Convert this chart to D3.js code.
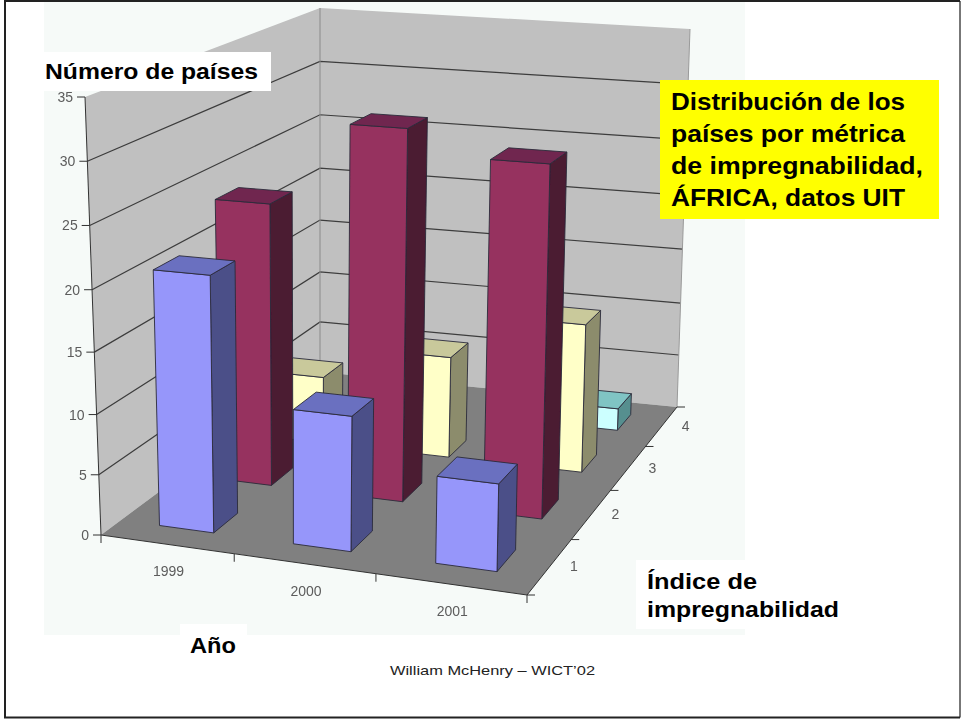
<!DOCTYPE html>
<html>
<head>
<meta charset="utf-8">
<script src="https://cdn.jsdelivr.net/npm/d3@7"></script>
<style>
  html, body { margin: 0; padding: 0; background: #fff; }
  text { font-family: "Liberation Sans", Arial, sans-serif; }
</style>
</head>
<body>
<div id="chart"></div>
<script>
const years = ['1999', '2000', '2001'];
const indices = ['1', '2', '3', '4'];
const valueTicks = [0, 5, 10, 15, 20, 25, 30, 35];

// one list per index of impregnability, one value per year
const index1Values = [21, 11, 7];
const index2Values = [24, 31, 29];
const index3Values = [6, 9, 13];
const index4Values = [0, 0, 2];

const titleLines = ['Distribución de los', 'países por métrica', 'de impregnabilidad,', 'ÁFRICA, datos UIT'];
const titleLengths = [234, 234, 252, 234];
const indexTitleLines = ['Índice de', 'impregnabilidad'];
const indexTitleLengths = [110, 192];

const series = [
  { index: indices[0], values: index1Values, front: '#9696fa', top: '#6a6fc0', side: '#4c5088' },
  { index: indices[1], values: index2Values, front: '#96325f', top: '#70284f', side: '#4b1a32' },
  { index: indices[2], values: index3Values, front: '#ffffc8', top: '#c9c99b', side: '#8c8c6c' },
  { index: indices[3], values: index4Values, front: '#ccffff', top: '#80c4c4', side: '#578f8f' },
]

const width = 962, height = 720;

// corners of the chart box as they land on the screen: front left, front right, back right, back left
const floorQuad = [[101, 535], [527, 595], [677, 407], [320, 372]];
const ceilQuad = [[85, 97], [536, 128], [690, 29], [320, 8]];

// square to quad mapping (Heckbert)
function quadMap(q) {
  const [[x0, y0], [x1, y1], [x2, y2], [x3, y3]] = q;
  const dx1 = x1 - x2, dx2 = x3 - x2, sx = x0 - x1 + x2 - x3;
  const dy1 = y1 - y2, dy2 = y3 - y2, sy = y0 - y1 + y2 - y3;
  const den = dx1 * dy2 - dx2 * dy1;
  const g = (sx * dy2 - dx2 * sy) / den;
  const h = (dx1 * sy - sx * dy1) / den;
  const a = x1 - x0 + g * x1, b = x3 - x0 + h * x3;
  const d = y1 - y0 + g * y1, e = y3 - y0 + h * y3;
  return (u, v) => {
    const w = g * u + h * v + 1;
    return [(a * u + b * v + x0) / w, (d * u + e * v + y0) / w];
  }
}
const floorAt = quadMap(floorQuad);
const ceilAt = quadMap(ceilQuad);

const xScale = d3.scaleBand().domain(years).range([0, 1]);
const zScale = d3.scaleBand().domain(indices).range([0, 1]);
// the spacing of the ticks shrinks a little towards the floor
const yScale = d3.scaleLinear().domain([0, 10, 20, 35]).range([0, 0.275, 0.56, 1]);

function project(u, v, value) {
  const a = floorAt(u, v), b = ceilAt(u, v), t = yScale(value);
  return [a[0] + (b[0] - a[0]) * t, a[1] + (b[1] - a[1]) * t];
}

const line = d3.line();
const closed = pts => line(pts) + 'Z';

const svg = d3.select('#chart').append('svg')
  .attr('width', width)
  .attr('height', height)
  .style('display', 'block');

const defs = svg.append('defs');
defs.append('filter').attr('id', 'soft')
  .append('feGaussianBlur').attr('stdDeviation', 0.6);
defs.append('filter').attr('id', 'softer')
  .append('feGaussianBlur').attr('stdDeviation', 0.7);

svg.append('rect').attr('width', width).attr('height', height).attr('fill', '#fff');

// pasted picture background
svg.append('rect')
  .attr('x', 44).attr('y', 2).attr('width', 701).attr('height', 633)
  .attr('fill', '#f6faf8');

const plot = svg.append('g').attr('filter', 'url(#soft)');

// walls and floor
plot.append('path')
  .attr('d', closed([project(0, 0, 0), project(0, 0, 35), project(0, 1, 35), project(0, 1, 0)]))
  .attr('fill', '#c0c0c0');
plot.append('path')
  .attr('d', closed([project(0, 1, 0), project(0, 1, 35), project(1, 1, 35), project(1, 1, 0)]))
  .attr('fill', '#c0c0c0');
plot.append('path')
  .attr('d', closed([project(0, 0, 0), project(1, 0, 0), project(1, 1, 0), project(0, 1, 0)]))
  .attr('fill', '#808080');

// gridlines
plot.append('g').selectAll('path')
  .data(valueTicks.filter(d => d > 0 && d < 35))
  .enter()
  .append('path')
  .attr('d', d => line([project(0, 0, d), project(0, 1, d), project(1, 1, d)]))
  .attr('fill', 'none')
  .attr('stroke', '#3c3c3c')
  .attr('stroke-width', 1.2);

// back corner and wall edges
plot.append('path')
  .attr('d', line([project(0, 1, 0), project(0, 1, 35)]))
  .attr('stroke', '#8a8a8a');
plot.append('path')
  .attr('d', line([project(0, 0, 0), project(0, 0, 35)]))
  .attr('stroke', '#333');
plot.append('path')
  .attr('d', line([project(1, 1, 0), project(1, 1, 35)]))
  .attr('stroke', '#9a9a9a');

// axis lines on the floor
plot.append('path')
  .attr('d', line([project(0, 0, 0), project(1, 0, 0), project(1, 1, 0)]))
  .attr('fill', 'none')
  .attr('stroke', '#333');

const tickLayer = plot.append('g').attr('stroke', '#333').attr('fill', 'none');
valueTicks.forEach(d => {
  const [x, y] = project(0, 0, d);
  tickLayer.append('path').attr('d', line([[x - 8, y], [x, y]]));
});
d3.range(years.length + 1).forEach(i => {
  const [x, y] = project(i / years.length, 0, 0);
  tickLayer.append('path').attr('d', line([[x, y], [x, y + 8]]));
});
d3.range(indices.length + 1).forEach(i => {
  const [x, y] = project(1, i / indices.length, 0);
  tickLayer.append('path').attr('d', line([[x, y], [x + 8, y]]));
});

// bars, painted from the back row to the front row, left to right
const barPad = 0.3;
const bars = [];
series.forEach(s => years.forEach((year, i) => {
  if (s.values[i] > 0) bars.push({ year, value: s.values[i], s })
}));
bars.sort((a, b) => d3.descending(a.s.index, b.s.index) || d3.ascending(a.year, b.year));

bars.forEach(d => {
  const bw = xScale.bandwidth(), bd = zScale.bandwidth();
  const u0 = xScale(d.year) + bw * barPad, u1 = xScale(d.year) + bw * (1 - barPad) + 0.004;
  const v0 = zScale(d.s.index) + bd * barPad, v1 = zScale(d.s.index) + bd * (1 - barPad);
  const g = plot.append('g').attr('stroke', '#2a2a3a').attr('stroke-width', 0.9).attr('stroke-linejoin', 'round');
  g.append('path').attr('fill', d.s.side)
    .attr('d', closed([project(u1, v0, 0), project(u1, v1, 0), project(u1, v1, d.value), project(u1, v0, d.value)]));
  g.append('path').attr('fill', d.s.front)
    .attr('d', closed([project(u0, v0, 0), project(u1, v0, 0), project(u1, v0, d.value), project(u0, v0, d.value)]));
  g.append('path').attr('fill', d.s.top)
    .attr('d', closed([project(u0, v0, d.value), project(u1, v0, d.value), project(u1, v1, d.value), project(u0, v1, d.value)]));
});

// tick labels
const labels = svg.append('g').attr('filter', 'url(#softer)').attr('fill', '#5c5c5c').attr('font-size', 14);
valueTicks.forEach(d => {
  const [x, y] = project(0, 0, d);
  labels.append('text')
    .attr('x', x - 12).attr('y', y + 5)
    .attr('text-anchor', 'end')
    .text(d);
});
years.forEach(year => {
  const [x, y] = project(xScale(year) + xScale.bandwidth() / 2, 0, 0);
  labels.append('text')
    .attr('x', x + 2).attr('y', y + 32)
    .attr('text-anchor', 'middle')
    .attr('font-size', 14)
    .text(year);
});
indices.forEach(idx => {
  const [x, y] = project(1, zScale(idx) + zScale.bandwidth() / 2, 0);
  labels.append('text')
    .attr('x', x + 24).attr('y', y + 5)
    .attr('text-anchor', 'middle')
    .text(idx);
});

// text boxes laid over the picture
svg.append('rect').attr('x', 44).attr('y', 52).attr('width', 227).attr('height', 39).attr('fill', '#fff');
svg.append('text')
  .attr('x', 45).attr('y', 79)
  .attr('font-size', 22).attr('font-weight', 'bold')
  .attr('textLength', 213).attr('lengthAdjust', 'spacingAndGlyphs')
  .text('Número de países');

svg.append('rect').attr('x', 180).attr('y', 624).attr('width', 67).attr('height', 36).attr('fill', '#fff');
svg.append('text')
  .attr('x', 190).attr('y', 653)
  .attr('font-size', 22).attr('font-weight', 'bold')
  .attr('textLength', 46).attr('lengthAdjust', 'spacingAndGlyphs')
  .text('Año');

svg.append('rect').attr('x', 636).attr('y', 560).attr('width', 109).attr('height', 69).attr('fill', '#fff');
svg.append('g').selectAll('text')
  .data(indexTitleLines)
  .enter()
  .append('text')
  .attr('x', 647)
  .attr('y', (d, i) => 589 + i * 28)
  .attr('font-size', 22).attr('font-weight', 'bold')
  .attr('textLength', (d, i) => indexTitleLengths[i]).attr('lengthAdjust', 'spacingAndGlyphs')
  .text(d => d);

svg.append('rect').attr('x', 660).attr('y', 80).attr('width', 279).attr('height', 139).attr('fill', '#ffff00');
svg.append('g').selectAll('text')
  .data(titleLines)
  .enter()
  .append('text')
  .attr('x', 671)
  .attr('y', (d, i) => 110 + i * 32)
  .attr('font-size', 24.5).attr('font-weight', 'bold')
  .attr('textLength', (d, i) => titleLengths[i]).attr('lengthAdjust', 'spacingAndGlyphs')
  .text(d => d);

svg.append('text')
  .attr('x', 390).attr('y', 675)
  .attr('fill', '#222')
  .attr('font-size', 13.5)
  .attr('textLength', 205).attr('lengthAdjust', 'spacingAndGlyphs')
  .text('William McHenry – WICT’02');

// slide frame, the right edge comes out lighter in the scan
svg.append('path')
  .attr('d', line([[960, 1], [960, 717.5]]))
  .attr('stroke', '#777')
  .attr('stroke-width', 2);
svg.append('path')
  .attr('d', line([[960, 1], [5, 1], [5, 717.5], [960, 717.5]]))
  .attr('fill', 'none')
  .attr('stroke', '#222')
  .attr('stroke-width', 2);
</script>
</body>
</html>
